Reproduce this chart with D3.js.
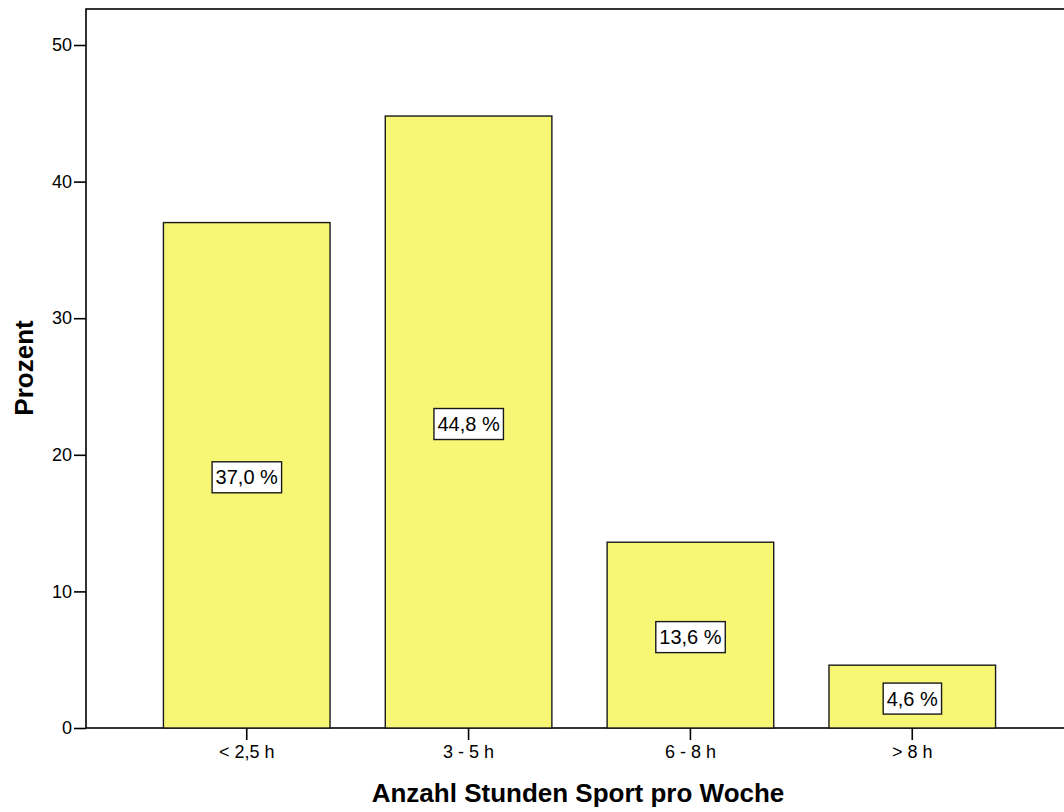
<!DOCTYPE html>
<html>
<head>
<meta charset="utf-8">
<script src="https://cdn.jsdelivr.net/npm/d3@7"></script>
<style>
  body { margin: 0; background: #fff; }
  text { font-family: Arial, "Liberation Sans", sans-serif; fill: #000; }
</style>
</head>
<body>
<script>
// chart data
var categories = ['< 2,5 h', '3 - 5 h', '6 - 8 h', '> 8 h'];
var percents = [37.0, 44.8, 13.6, 4.6];
var barLabels = ['37,0 %', '44,8 %', '13,6 %', '4,6 %'];
var yTicks = [0, 10, 20, 30, 40, 50];

function drawChart() {
  var width = 1064;
  var height = 812;
  var fontFam = 'Arial, "Liberation Sans", sans-serif';
  var svg = d3.select('body')
    .append('svg')
    .attr('width', width)
    .attr('height', height);

  var plotLeft = 86;
  var plotTop = 9;
  var plotBottom = 728;

  // Y Scale
  var yScale = d3.scaleLinear()
    .domain([0, 50])
    .range([plotBottom, 45]);

  // X Scale
  var xScale = d3.scaleBand()
    .domain(categories)
    .range([135.7, 1023.3])
    .paddingInner(0.249)
    .paddingOuter(0.125);

  // plot frame (right edge runs off the picture)
  svg.append('rect')
    .attr('x', plotLeft)
    .attr('y', plotTop)
    .attr('width', width + 20 - plotLeft)
    .attr('height', plotBottom - plotTop)
    .attr('fill', 'none')
    .attr('stroke', '#000')
    .attr('stroke-width', 1.6);

  // bars
  svg.append('g')
    .selectAll('rect')
    .data(percents)
    .enter()
    .append('rect')
    .attr('x', function (d, i) { return xScale(categories[i]); })
    .attr('y', function (d) { return yScale(d); })
    .attr('width', xScale.bandwidth())
    .attr('height', function (d) { return plotBottom - yScale(d); })
    .attr('fill', '#f8f675')
    .attr('stroke', '#1a1a1a')
    .attr('stroke-width', 1.4);

  // y axis
  var yAxis = svg.append('g')
    .attr('transform', 'translate(' + plotLeft + ',0)')
    .call(d3.axisLeft(yScale).tickValues(yTicks).tickSize(12).tickPadding(2));
  yAxis.select('.domain').remove();
  yAxis.selectAll('line').attr('stroke-width', 1.6);
  yAxis.selectAll('text').style('font-size', '18px').style('font-family', fontFam);

  // x axis
  var xAxis = svg.append('g')
    .attr('transform', 'translate(0,' + plotBottom + ')')
    .call(d3.axisBottom(xScale).tickSize(12).tickPadding(5));
  xAxis.select('.domain').remove();
  xAxis.selectAll('line').attr('stroke-width', 1.6);
  xAxis.selectAll('text').style('font-size', '18px').style('font-family', fontFam);

  // value labels in boxes at the middle of each bar
  var labels = svg.append('g')
    .selectAll('g')
    .data(percents)
    .enter()
    .append('g')
    .attr('transform', function (d, i) {
      var cx = xScale(categories[i]) + xScale.bandwidth() / 2;
      var cy = (yScale(d) + plotBottom) / 2 + 2;
      return 'translate(' + cx + ',' + cy + ')';
    });

  labels.append('text')
    .attr('text-anchor', 'middle')
    .attr('dy', '0.35em')
    .style('font-size', '20px')
    .text(function (d, i) { return barLabels[i]; });

  labels.each(function () {
    var g = d3.select(this);
    var bb = g.select('text').node().getBBox();
    g.insert('rect', 'text')
      .attr('x', bb.x - 3.5)
      .attr('y', -15.5)
      .attr('width', bb.width + 7)
      .attr('height', 31)
      .attr('fill', '#fff')
      .attr('stroke', '#1a1a1a')
      .attr('stroke-width', 1.4);
  });

  // axis titles
  svg.append('text')
    .attr('x', 578)
    .attr('y', 802)
    .attr('text-anchor', 'middle')
    .style('font-size', '26px')
    .style('font-weight', 'bold')
    .text('Anzahl Stunden Sport pro Woche');

  svg.append('text')
    .attr('transform', 'translate(33,368) rotate(-90)')
    .attr('text-anchor', 'middle')
    .style('font-size', '26px')
    .style('font-weight', 'bold')
    .text('Prozent');
}

drawChart();
</script>
</body>
</html>
